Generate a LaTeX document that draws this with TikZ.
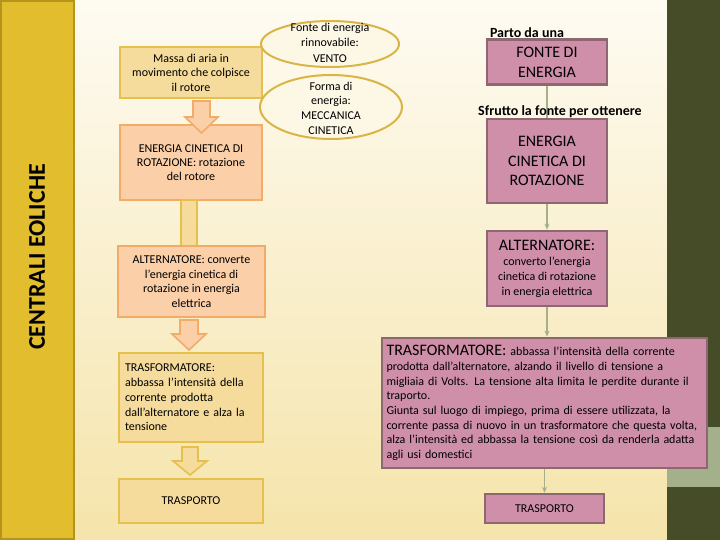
\documentclass[tikz,border=0pt]{standalone}
\usepackage{fontspec}
\setmainfont{Carlito}
\usetikzlibrary{shapes.geometric,arrows.meta}
\definecolor{bgtop}{RGB}{254,251,242}
\definecolor{bgbot}{RGB}{245,228,170}
\definecolor{barfill}{RGB}{226,189,46}
\definecolor{barline}{RGB}{181,148,28}
\definecolor{olive}{RGB}{70,75,40}
\definecolor{lgreen}{RGB}{164,176,140}
\definecolor{goldfill}{RGB}{246,220,156}
\definecolor{goldline}{RGB}{230,192,76}
\definecolor{peachfill}{RGB}{251,208,168}
\definecolor{peachline}{RGB}{242,172,104}
\definecolor{pinkfill}{RGB}{207,143,169}
\definecolor{pinkline}{RGB}{141,104,114}
\definecolor{connc}{RGB}{166,174,138}
\definecolor{ellline}{RGB}{217,181,69}
\definecolor{ellfill}{RGB}{253,247,230}
\tikzset{
  goldbox/.style={draw=goldline,fill=goldfill,line width=1.6pt,inner sep=0pt,align=center,font=\fontsize{12}{14.5}\selectfont},
  peachbox/.style={draw=peachline,fill=peachfill,line width=1.6pt,inner sep=0pt,align=center,font=\fontsize{12}{14}\selectfont},
  pinkbox/.style={draw=pinkline,fill=pinkfill,line width=2.6pt,inner sep=0pt,align=center},
  ellbox/.style={ellipse,draw=ellline,fill=ellfill,line width=2pt,inner sep=0pt},
  elltext/.style={align=center,inner sep=0pt,font=\fontsize{12}{15.5}\selectfont},
  lbl/.style={inner sep=0pt,font=\bfseries\fontsize{14}{16}\selectfont},
  conn/.style={draw=connc,line width=1.6pt},
  conna/.style={conn,-{Stealth[length=6pt,width=5pt]}},
  peacharrow/.style={draw=peachline,fill=peachfill,line width=1.6pt,line join=miter},
  goldarrow/.style={draw=goldline,fill=goldfill,line width=1.6pt,line join=miter}
}
\begin{document}
\begin{tikzpicture}[x=1pt,y=-1pt]
\useasboundingbox (0,0) rectangle (720,540);
% background
\shade[top color=bgtop,bottom color=bgbot] (75,0) rectangle (667,540);
\fill[olive] (667,0) rectangle (720,540);
\fill[lgreen] (667,427) rectangle (720,487);
% left bar
\draw[fill=barfill,draw=barline,line width=2pt] (1,1) rectangle (74,539);
\node[rotate=90,inner sep=0pt,font=\bfseries\fontsize{24}{26}\selectfont] (title) at (37,257) {CENTRALI EOLICHE};

% left column
\node[goldbox,minimum width=142,minimum height=51] (m1) at (191,72.5) {Massa di aria in\\movimento che colpisce\\il rotore};
\node[peachbox,minimum width=142,minimum height=75] (m2) at (191,162.5) {ENERGIA CINETICA DI\\ROTAZIONE: rotazione\\del rotore};
\node[goldbox,minimum width=16,minimum height=46,line width=1.4pt] (bar) at (189,223) {};
\node[peachbox,minimum width=147,minimum height=71,font=\fontsize{12}{14.7}\selectfont] (m3) at (191.5,281.5) {ALTERNATORE: converte\\l'energia cinetica di\\rotazione in energia\\elettrica};
\node[goldbox,minimum width=144,minimum height=89,text width=132,align=left,font=\fontsize{12}{14.8}\selectfont] (m4) at (191,397.5) {TRASFORMATORE:\\abbassa l'intensità della\\corrente prodotta\\dall'alternatore e alza la\\tensione};
\node[goldbox,minimum width=144,minimum height=44] (m5) at (191,501) {TRASPORTO};

% block arrows
\draw[peacharrow] (193,101) -- (210,101) -- (210,117) -- (218,117) -- (201.5,133) -- (185,117) -- (193,117) -- cycle;
\draw[peacharrow] (180,320) -- (198,320) -- (198,334) -- (206,334) -- (189,350) -- (172,334) -- (180,334) -- cycle;
\draw[goldarrow] (182,447) -- (198,447) -- (198,461) -- (207,461) -- (190,475) -- (173,461) -- (182,461) -- cycle;

% ellipses
\node[ellbox,minimum width=138,minimum height=46] (e1) at (330,44) {};
\node[elltext] (e1t) at (330,42.5) {Fonte di energia\\rinnovabile:\\VENTO};
\node[ellbox,minimum width=142,minimum height=64] (e2) at (331,107) {};
\node[elltext,font=\fontsize{12}{14.7}\selectfont] (e2t) at (331,108) {Forma di\\energia:\\MECCANICA\\CINETICA};

% right column
\node[pinkbox,minimum width=120,minimum height=45,font=\fontsize{16}{20}\selectfont] (r1) at (547,62) {FONTE DI\\ENERGIA};
\node[pinkbox,minimum width=120,minimum height=84,font=\fontsize{16}{19.5}\selectfont] (r2) at (547,161) {ENERGIA\\CINETICA DI\\ROTAZIONE};
\node[pinkbox,minimum width=120,minimum height=75,font=\fontsize{12}{15}\selectfont] (r3) at (547,268.5) {{\fontsize{16}{17}\selectfont ALTERNATORE:}\\converto l'energia\\cinetica di rotazione\\in energia elettrica};
\node[pinkbox,minimum width=325,minimum height=130,text width=316,align=left,font=\fontsize{12}{14.7}\selectfont] (r4) at (544.5,403) {{\fontsize{16}{14.7}\selectfont TRASFORMATORE:} abbassa l'intensità della corrente\\prodotta dall'alternatore, alzando il livello di tensione a\\migliaia di Volts. La tensione alta limita le perdite durante il\\traporto.\\Giunta sul luogo di impiego, prima di essere utilizzata, la\\corrente passa di nuovo in un trasformatore che questa volta,\\alza l'intensità ed abbassa la tensione così da renderla adatta\\agli usi domestici};
\node[pinkbox,minimum width=119,minimum height=29,font=\fontsize{12}{13}\selectfont] (r5) at (544.5,508.5) {TRASPORTO};

% connectors
\draw[conn] (r1.south) -- (r2.north);
\draw[conna] (r2.south) -- (r3.north);
\draw[conna] (r3.south) -- (r4.north -| r3.south);
\draw[conna] (r4.south -| r5.north) -- (r5.north);

% labels
\node[lbl] (l1) at (527,33) {Parto da una};
\node[lbl] (l2) at (560,112) {Sfrutto la fonte per ottenere};
\end{tikzpicture}
\end{document}
